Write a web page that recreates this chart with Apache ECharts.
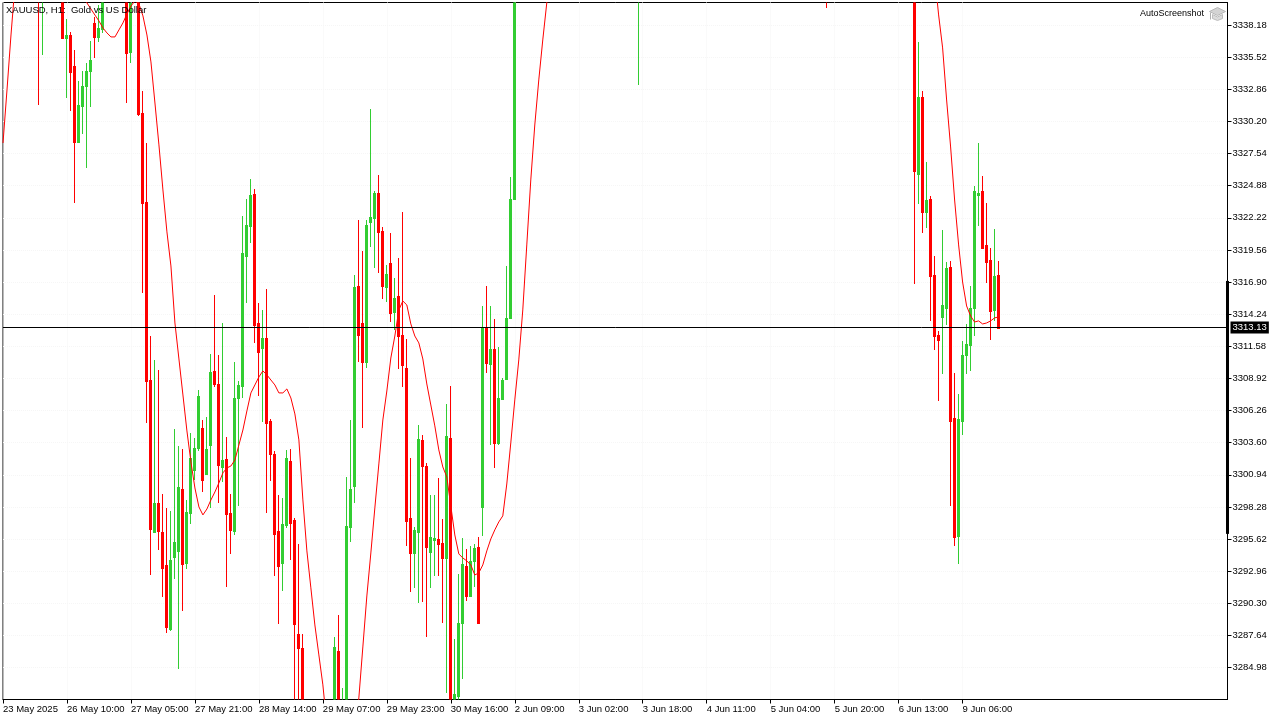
<!DOCTYPE html>
<html>
<head>
<meta charset="utf-8">
<style>html,body{margin:0;padding:0;background:#fff}#c{width:1280px;height:720px}</style>
<script src="https://cdn.jsdelivr.net/npm/echarts@6/dist/echarts.min.js"></script>
</head>
<body>
<div id="c"></div>
<script>
const chartTitle = 'XAUUSD, H1:  Gold vs US Dollar';
const timeLabels = ['23 May 2025','26 May 10:00','27 May 05:00','27 May 21:00','28 May 14:00','29 May 07:00','29 May 23:00','30 May 16:00','2 Jun 09:00','3 Jun 02:00','3 Jun 18:00','4 Jun 11:00','5 Jun 04:00','5 Jun 20:00','6 Jun 13:00','9 Jun 06:00'];
const barsPerTimeLabel = 16;
const priceTicks = [3338.18,3335.52,3332.86,3330.20,3327.54,3324.88,3322.22,3319.56,3316.90,3314.24,3311.58,3308.92,3306.26,3303.60,3300.94,3298.28,3295.62,3292.96,3290.30,3287.64,3284.98];
const lastPrice = 3313.13;
const axisHighlight = [3296.05,3316.99];

const opens = [
3344.8,3346.2,3348.6,3347.1,3349.8,3351.4,3350.2,3352.7,3351.0,3349.3,
3344.6,3346.9,3345.2,3347.5,3345.8,3343.9,3337.10,3337.35,3334.79,3328.50,
3331.48,3333.13,3334.37,3338.35,3337.19,3337.85,3342.5,3344.1,3343.0,3345.4,
3344.2,3346.6,3335.95,3341.0,3343.2,3330.90,3323.53,3308.79,3296.21,3298.61,
3296.21,3293.48,3288.18,3294.14,3294.64,3299.77,3293.64,3297.78,3301.34,3303.16,
3304.82,3301.01,3303.41,3309.54,3308.46,3301.59,3302.25,3297.78,3296.29,3307.30,
3308.30,3319.06,3321.54,3324.19,3313.51,3311.44,3312.27,3305.40,3302.67,3296.29,
3293.64,3296.79,3302.09,3297.20,3287.77,3286.61,3278.4,3276.9,3278.2,3275.7,
3277.3,3275.1,3276.6,3275.4,3286.36,3279.8,3281.0,3296.63,3300.02,3316.57,
3313.51,3310.28,3321.87,3322.20,3324.27,3321.13,3316.49,3318.48,3314.42,3315.75,
3312.52,3309.79,3297.37,3294.47,3296.21,3303.83,3301.67,3294.55,3295.55,3295.63,
3295.30,3294.06,3303.99,3280.9,3282.64,3288.68,3293.40,3290.91,3293.81,3294.97,
3298.28,3313.18,3310.12,3311.36,3303.58,3307.22,3308.88,3313.93,3323.78,3342.9,
3344.6,3346.8,3345.3,3349.1,3351.7,3350.2,3353.8,3356.4,3355.1,3358.9,
3361.3,3359.7,3362.8,3365.4,3363.9,3367.2,3369.8,3368.1,3371.5,3373.9,
3372.3,3375.6,3377.2,3375.8,3372.4,3370.1,3366.9,3363.4,3360.7,3355.2,
3362.1,3358.6,3361.9,3360.3,3364.7,3367.1,3365.5,3369.3,3372.6,3370.8,
3374.2,3376.9,3375.2,3378.7,3381.1,3379.4,3376.8,3373.5,3370.9,3372.8,
3369.6,3366.2,3368.4,3371.7,3369.9,3373.3,3370.6,3367.4,3364.1,3360.8,
3362.9,3359.3,3355.7,3357.8,3354.2,3350.9,3352.6,3349.4,3346.8,3348.7,
3351.3,3348.9,3346.2,3344.5,3347.1,3345.3,3346.4,3343.6,3349.2,3352.5,
3350.8,3354.3,3357.6,3355.9,3359.2,3362.8,3366.3,3364.7,3368.4,3371.9,
3375.2,3373.6,3370.4,3367.8,3365.1,3362.3,3364.6,3361.5,3358.4,3325.85,
3332.22,3322.70,3323.78,3317.49,3312.52,3314.01,3314.75,3318.15,3305.65,3295.88,
3305.40,3310.86,3311.69,3314.75,3324.11,3324.44,3319.97,3318.73,3314.59,3317.49
];
const closes = [
3346.2,3348.6,3347.1,3349.8,3351.4,3350.2,3352.7,3351.0,3349.3,3344.6,
3346.9,3345.2,3347.5,3345.8,3343.9,3337.10,3337.35,3334.29,3328.50,3331.56,
3333.13,3334.37,3335.28,3337.19,3337.93,3342.5,3344.1,3343.0,3345.4,3344.2,
3346.6,3335.86,3340.0,3343.2,3330.81,3323.45,3308.71,3296.46,3298.61,3296.29,
3293.23,3288.35,3293.89,3295.38,3299.94,3293.56,3297.87,3302.34,3303.16,3307.47,
3300.52,3303.08,3309.46,3308.46,3301.76,3302.17,3297.70,3296.38,3307.30,3308.38,
3319.31,3321.62,3324.11,3313.35,3311.11,3312.27,3305.23,3302.67,3296.05,3293.40,
3296.87,3302.34,3296.96,3288.59,3286.61,3278.4,3276.9,3278.2,3275.7,3277.3,
3275.1,3276.6,3275.4,3286.69,3279.8,3281.0,3296.71,3299.77,3316.49,3312.52,
3310.28,3321.62,3322.29,3324.27,3321.05,3316.57,3317.57,3314.34,3315.58,3312.44,
3310.04,3297.12,3294.47,3296.38,3303.91,3301.67,3294.97,3295.80,3295.72,3295.22,
3294.06,3304.16,3281.4,3282.8,3288.68,3293.56,3290.91,3293.81,3294.89,3288.68,
3313.18,3310.20,3311.36,3303.58,3307.30,3308.79,3313.93,3323.78,3342.9,3344.6,
3346.8,3345.3,3349.1,3351.7,3350.2,3353.8,3356.4,3355.1,3358.9,3361.3,
3359.7,3362.8,3365.4,3363.9,3367.2,3369.8,3368.1,3371.5,3373.9,3372.3,
3375.6,3377.2,3375.8,3372.4,3370.1,3366.9,3363.4,3360.7,3362.1,3362.1,
3358.6,3361.9,3360.3,3364.7,3367.1,3365.5,3369.3,3372.6,3370.8,3374.2,
3376.9,3375.2,3378.7,3381.1,3379.4,3376.8,3373.5,3370.9,3372.8,3369.6,
3366.2,3368.4,3371.7,3369.9,3373.3,3370.6,3367.4,3364.1,3360.8,3362.9,
3359.3,3355.7,3357.8,3354.2,3350.9,3352.6,3349.4,3346.8,3348.7,3351.3,
3348.9,3346.2,3344.5,3347.1,3345.3,3343.6,3343.6,3349.2,3352.5,3350.8,
3354.3,3357.6,3355.9,3359.2,3362.8,3366.3,3364.7,3368.4,3371.9,3375.2,
3373.6,3370.4,3367.8,3365.1,3362.3,3364.6,3361.5,3358.4,3326.09,3332.22,
3322.70,3323.69,3317.40,3312.44,3312.10,3315.00,3318.06,3305.40,3295.80,3305.57,
3310.86,3311.77,3314.75,3324.44,3324.27,3319.72,3318.56,3314.51,3317.40,3313.13
];
const lows = [
3341.5,3345.1,3345.7,3346.2,3348.5,3348.9,3349.4,3349.6,3347.8,3331.56,
3335.70,3343.4,3344.3,3344.2,3342.6,3337.02,3332.14,3331.06,3323.45,3328.50,
3329.16,3326.34,3331.39,3335.45,3336.77,3337.52,3341.6,3341.9,3342.2,3342.9,
3343.1,3331.72,3335.03,3340.4,3330.65,3316.00,3305.23,3292.65,3296.21,3294.72,
3290.83,3287.85,3288.02,3292.32,3284.87,3289.67,3293.15,3296.87,3300.52,3302.92,
3299.52,3301.01,3298.20,3308.21,3298.61,3300.35,3291.66,3294.39,3295.96,3298.36,
3307.30,3315.17,3320.13,3311.86,3307.47,3305.32,3297.78,3300.43,3292.57,3288.59,
3291.33,3296.54,3293.89,3280.0,3279.0,3276.2,3275.1,3275.8,3274.6,3274.9,
3273.8,3274.2,3274.0,3274.7,3278.2,3278.4,3279.6,3295.38,3298.61,3310.28,
3304.82,3309.79,3319.80,3318.07,3317.65,3315.50,3315.25,3313.59,3312.93,3309.70,
3308.21,3295.05,3291.24,3291.58,3290.33,3290.42,3287.52,3291.58,3292.57,3292.57,
3288.68,3282.88,3279.7,3279.9,3281.8,3284.04,3290.50,3290.91,3291.66,3288.68,
3295.88,3309.37,3303.41,3301.51,3303.41,3307.14,3308.88,3313.84,3323.69,3342.1,
3343.7,3344.2,3344.8,3348.3,3349.1,3349.5,3352.9,3353.8,3354.2,3358.0,
3358.6,3358.9,3361.7,3362.6,3362.8,3366.1,3366.9,3367.3,3370.4,3371.0,
3371.4,3374.3,3374.6,3371.2,3368.7,3365.2,3361.8,3358.9,3359.5,3333.21,
3353.7,3357.4,3359.0,3359.2,3363.6,3364.2,3364.8,3368.1,3369.4,3369.9,
3373.1,3373.8,3374.4,3377.5,3378.2,3375.3,3372.0,3369.2,3369.8,3368.1,
3364.7,3365.1,3367.3,3368.5,3368.9,3369.0,3365.8,3362.7,3359.2,3359.7,
3357.6,3354.1,3354.6,3352.8,3349.3,3349.8,3347.9,3345.4,3345.9,3347.6,
3347.5,3344.8,3343.1,3343.3,3343.9,3342.4,3339.59,3345.2,3348.1,3349.4,
3349.9,3353.2,3354.5,3355.0,3358.1,3361.6,3363.2,3363.8,3367.2,3370.8,
3372.1,3368.9,3366.2,3363.6,3360.8,3361.2,3360.1,3356.7,3316.74,3323.36,
3320.96,3321.38,3313.68,3311.28,3307.05,3309.29,3313.35,3298.36,3295.05,3293.56,
3304.24,3309.29,3309.54,3312.44,3321.54,3319.72,3316.82,3312.10,3313.68,3313.02
];
const highs = [
3347.9,3349.9,3350.8,3351.3,3352.9,3353.2,3354.1,3353.8,3352.2,3350.4,
3348.0,3348.1,3348.8,3349.0,3347.0,3344.8,3338.68,3337.60,3336.11,3333.54,
3334.37,3335.03,3336.86,3338.84,3339.84,3343.6,3345.2,3345.3,3346.3,3346.5,
3347.4,3347.5,3341.2,3344.3,3344.0,3332.72,3328.41,3312.44,3310.45,3309.62,
3299.36,3298.20,3297.95,3304.74,3303.33,3303.08,3298.86,3304.41,3303.99,3307.97,
3305.48,3305.73,3310.95,3315.83,3310.86,3313.51,3304.07,3299.36,3310.28,3308.71,
3322.37,3323.78,3325.43,3324.60,3315.17,3314.59,3316.33,3305.60,3302.90,3299.27,
3299.03,3303.00,3303.08,3297.37,3295.22,3287.77,3280.1,3279.6,3279.0,3278.5,
3278.4,3278.0,3279.1,3287.52,3289.34,3283.30,3300.76,3305.48,3317.49,3322.04,
3319.47,3322.04,3331.23,3324.44,3325.76,3321.46,3318.31,3320.96,3317.24,3318.89,
3322.70,3312.19,3302.34,3296.60,3305.07,3304.24,3301.90,3299.27,3299.27,3300.68,
3297.29,3306.81,3308.30,3287.35,3292.73,3295.71,3294.80,3295.05,3295.22,3295.80,
3314.92,3316.57,3314.92,3313.84,3311.53,3308.96,3318.23,3325.60,3344.1,3345.8,
3347.9,3348.1,3350.2,3352.6,3353.0,3354.7,3357.2,3357.9,3359.8,3362.5,
3362.9,3363.6,3366.3,3366.8,3368.4,3370.7,3371.2,3372.6,3374.8,3375.2,
3376.7,3378.4,3378.9,3376.9,3373.5,3371.3,3368.0,3364.6,3363.2,3363.4,
3359.8,3363.1,3362.8,3365.9,3368.2,3368.7,3370.4,3373.8,3373.9,3375.3,
3378.0,3378.3,3379.6,3382.4,3382.6,3380.7,3377.9,3374.8,3373.9,3373.7,
3370.8,3369.5,3372.9,3372.8,3374.5,3374.4,3371.7,3368.6,3365.3,3364.0,
3363.8,3360.4,3358.9,3358.7,3355.4,3353.7,3353.5,3350.6,3349.8,3352.2,
3352.4,3349.9,3347.4,3348.2,3348.0,3346.5,3347.5,3350.3,3353.6,3353.7,
3355.4,3358.8,3358.7,3360.3,3364.0,3367.5,3367.4,3369.6,3373.1,3376.3,
3376.4,3374.7,3371.6,3368.9,3366.2,3365.7,3365.8,3362.6,3359.5,3336.77,
3332.72,3326.84,3324.03,3319.06,3312.85,3321.21,3318.56,3318.64,3309.37,3307.63,
3312.02,3313.43,3316.57,3324.85,3328.41,3325.68,3323.45,3319.72,3321.29,3318.64
];
const movingAverage = [
3328.41,3332.80,3337.35,3341.49,3344.2,3346.5,3348.3,3349.6,3350.4,3351.0,
3351.2,3351.0,3350.5,3349.8,3349.0,3348.0,3347.0,3345.0,3343.0,3341.6,
3340.7,3340.00,3339.50,3339.00,3338.51,3337.93,3337.52,3337.19,3337.19,3337.77,
3338.35,3339.09,3339.75,3340.17,3339.92,3338.93,3337.35,3335.12,3331.72,3328.25,
3324.52,3321.05,3318.23,3313.51,3310.53,3307.55,3304.57,3302.00,3299.85,3298.28,
3297.62,3298.11,3298.86,3299.52,3300.27,3301.10,3301.51,3301.67,3302.17,3303.41,
3304.65,3306.23,3307.72,3308.38,3309.04,3309.54,3309.21,3308.79,3308.38,3307.72,
3307.72,3308.05,3307.30,3305.98,3303.83,3298.86,3294.64,3291.58,3288.51,3286.03,
3283.55,3280.24,3278.5,3277.3,3276.6,3276.3,3276.6,3277.5,3279.0,3282.47,
3286.69,3290.91,3294.47,3298.20,3301.84,3305.48,3307.88,3310.61,3312.43,3314.59,
3315.33,3315.00,3313.43,3312.43,3311.86,3310.53,3308.46,3306.72,3304.99,3303.00,
3301.59,3300.76,3298.36,3295.96,3294.39,3294.06,3293.81,3293.48,3292.65,3292.82,
3293.48,3294.64,3295.63,3296.38,3297.04,3297.54,3300.18,3303.58,3307.14,3310.45,
3314.59,3319.97,3325.35,3329.90,3333.63,3336.94,3340.00,3343.2,3346.1,3348.8,
3351.3,3353.6,3355.7,3357.5,3359.2,3360.6,3361.8,3362.9,3363.8,3364.7,
3365.6,3366.4,3367.3,3368.1,3368.7,3368.9,3368.6,3367.9,3367.0,3366.1,
3365.4,3365.1,3365.3,3365.8,3366.4,3367.2,3368.0,3368.9,3369.8,3370.6,
3371.5,3372.4,3373.2,3374.0,3374.7,3375.1,3375.0,3374.6,3373.9,3373.3,
3372.7,3372.2,3371.9,3371.7,3371.6,3371.3,3370.7,3369.8,3368.7,3367.6,
3366.4,3365.1,3363.7,3362.3,3360.9,3359.4,3357.9,3356.5,3355.2,3354.1,
3353.0,3352.0,3351.1,3350.4,3349.9,3349.6,3349.5,3349.7,3350.1,3350.7,
3351.5,3352.4,3353.3,3354.2,3355.1,3356.0,3356.9,3357.7,3358.4,3358.9,
3359.1,3358.8,3358.0,3356.8,3355.2,3353.3,3351.2,3348.8,3346.0,3344.6,
3343.5,3342.9,3342.6,3342.30,3339.01,3336.28,3331.97,3328.08,3323.69,3319.97,
3316.90,3314.92,3314.09,3313.59,3313.68,3313.43,3313.51,3313.68,3313.93,3314.01
];

const candleData = opens.map((o, i) => [i, o, closes[i], lows[i], highs[i]]);
const maData = movingAverage.map((v, i) => [i, v]);
const xTicks = timeLabels.map((_, k) => k * barsPerTimeLabel);
const xMax = 306.25;
const yMin = 3282.34, yMax = 3340.04;
const FONT = 'Liberation Sans';
const UP = '#32cd32', DOWN = '#ff0000';
const dash = {show:true,lineStyle:{color:'#f6f6f6',type:'dotted',width:1}};

function renderCandle(params, api) {
  const i = api.value(0), o = api.value(1), c = api.value(2), l = api.value(3), h = api.value(4);
  const x = api.coord([i, o])[0];
  const yOpen = api.coord([i, o])[1], yClose = api.coord([i, c])[1];
  const yLow = api.coord([i, l])[1], yHigh = api.coord([i, h])[1];
  const color = c >= o ? UP : DOWN;
  const top = Math.round(Math.min(yOpen, yClose)), bot = Math.round(Math.max(yOpen, yClose));
  const wx = Math.floor(x);
  return {type:'group',children:[
    {type:'rect',shape:{x:wx,y:Math.round(yHigh),width:1,height:Math.max(1,Math.round(yLow)-Math.round(yHigh))},style:{fill:color}},
    {type:'rect',shape:{x:wx-1,y:top,width:3,height:Math.max(1,bot-top+1)},style:{fill:color}}
  ]};
}

const chart = echarts.init(document.getElementById('c'), null, {renderer:'canvas'});
chart.setOption({
  animation:false,
  backgroundColor:'#fff',
  title:{text:chartTitle,left:6,top:5,z:20,padding:0,
    textStyle:{fontFamily:FONT,fontSize:9.5,fontWeight:'normal',color:'#000'}},
  grid:{left:2.5,top:2.5,right:52.5,bottom:20.5,show:true,borderColor:'#000',borderWidth:1,backgroundColor:'#fff'},
  xAxis:{type:'value',min:0,max:xMax,
    axisLine:{show:true,onZero:false,lineStyle:{color:'#000'}},
    axisTick:{show:true,length:4,lineStyle:{color:'#000'},customValues:xTicks},
    splitLine:dash,
    axisLabel:{customValues:xTicks,margin:5,align:'left',color:'#000',fontFamily:FONT,fontSize:9.5,
      formatter:v=>timeLabels[Math.round(v/barsPerTimeLabel)]||''}},
  yAxis:{type:'value',position:'right',min:yMin,max:yMax,scale:true,
    axisLine:{show:true,onZero:false,lineStyle:{color:'#000'}},
    axisTick:{show:true,length:4,lineStyle:{color:'#000'},customValues:priceTicks},
    splitLine:dash,
    axisLabel:{customValues:priceTicks,margin:5,color:'#000',fontFamily:FONT,fontSize:9.5,
      formatter:v=>v.toFixed(2)}},
  series:[
    {type:'custom',data:candleData,renderItem:renderCandle,clip:true,z:3,
      encode:{x:0,y:[1,2,3,4]}},
    {type:'line',data:maData,symbol:'none',smooth:false,clip:true,z:5,
      lineStyle:{color:DOWN,width:1},itemStyle:{color:DOWN},
      markLine:{silent:true,symbol:'none',animation:false,z:6,precision:2,
        lineStyle:{color:'#000',width:1,type:'solid'},
        label:{show:true,position:'end',distance:3,formatter:()=>lastPrice.toFixed(2),
          color:'#fff',backgroundColor:'#000',padding:[1,2,1,2],fontFamily:FONT,fontSize:9.5},
        data:[{yAxis:lastPrice}]}},
    {type:'line',data:axisHighlight.map(v=>[xMax,v]),symbol:'none',clip:false,z:7,
      lineStyle:{color:'#000',width:3,cap:'butt'}}
  ],
  graphic:[
    {type:'text',left:1140,top:9,z:30,style:{text:'AutoScreenshot',fill:'#000',font:'9px "Liberation Sans"'}},
    {type:'group',left:1208,top:7,z:30,children:[
      {type:'polygon',shape:{points:[[8,0],[16,4],[8,8],[0,4]]},style:{fill:'#d4d4d4',stroke:'#b8b8b8',lineWidth:1}},
      {type:'polygon',shape:{points:[[3,7],[8,9.5],[13,7],[13,11],[8,13],[3,11]]},style:{fill:'#dcdcdc',stroke:'#bdbdbd',lineWidth:1}},
      {type:'line',shape:{x1:1,y1:5,x2:1,y2:12},style:{stroke:'#b0b0b0',lineWidth:1}}
    ]}
  ]
});
</script>
</body>
</html>
